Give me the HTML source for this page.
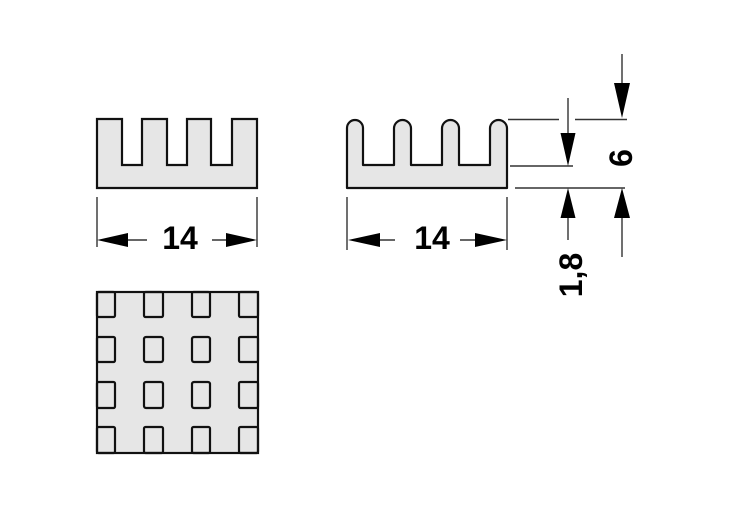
<!DOCTYPE html>
<html><head><meta charset="utf-8"><style>
html,body{margin:0;padding:0;background:#fff;}
svg{display:block;}
text{font-family:"Liberation Sans",sans-serif;font-weight:bold;font-size:32px;fill:#000;}
</style></head><body>
<svg width="731" height="532" viewBox="0 0 731 532" xmlns="http://www.w3.org/2000/svg">
<!-- left profile -->
<path d="M97,188 V119 H122 V165 H142 V119 H167 V165 H187 V119 H211 V165 H232 V119 H257 V188 Z" fill="#e6e6e6" stroke="#111" stroke-width="2.2" stroke-linejoin="miter"/>
<!-- right profile -->
<path d="M347,188 V128 A8,8 0 0 1 363,128 V165 H394 V128.5 A8.5,8.5 0 0 1 411,128.5 V165 H442 V128.5 A8.5,8.5 0 0 1 459,128.5 V165 H490 V128.5 A8.5,8.5 0 0 1 507,128.5 V188 Z" fill="#e6e6e6" stroke="#111" stroke-width="2.2" stroke-linejoin="round"/>
<!-- bottom view -->
<rect x="97" y="292" width="161" height="161" fill="#e6e6e6" stroke="#111" stroke-width="2.2"/>
<g fill="none" stroke="#111" stroke-width="2.2">
<rect x="97" y="292" width="18" height="25" rx="1.5"/>
<rect x="144" y="292" width="19" height="25" rx="1.5"/>
<rect x="192" y="292" width="18" height="25" rx="1.5"/>
<rect x="239" y="292" width="19" height="25" rx="1.5"/>
<rect x="97" y="337" width="18" height="25" rx="1.5"/>
<rect x="144" y="337" width="19" height="25" rx="2"/>
<rect x="192" y="337" width="18" height="25" rx="2"/>
<rect x="239" y="337" width="19" height="25" rx="1.5"/>
<rect x="97" y="382" width="18" height="26" rx="1.5"/>
<rect x="144" y="382" width="19" height="26" rx="2"/>
<rect x="192" y="382" width="18" height="26" rx="2"/>
<rect x="239" y="382" width="19" height="26" rx="1.5"/>
<rect x="97" y="427" width="18" height="26" rx="1.5"/>
<rect x="144" y="427" width="19" height="26" rx="1.5"/>
<rect x="192" y="427" width="18" height="26" rx="1.5"/>
<rect x="239" y="427" width="19" height="26" rx="1.5"/>
</g>
<!-- dimension lines -->
<g stroke="#333" stroke-width="1.4" fill="none">
<line x1="97" y1="197" x2="97" y2="247"/>
<line x1="257" y1="197" x2="257" y2="247"/>
<line x1="110" y1="240" x2="147" y2="240"/>
<line x1="212" y1="240" x2="245" y2="240"/>
<line x1="347" y1="197" x2="347" y2="250"/>
<line x1="507" y1="197" x2="507" y2="250"/>
<line x1="360" y1="240" x2="395" y2="240"/>
<line x1="460" y1="240" x2="495" y2="240"/>
<line x1="508" y1="119.5" x2="559" y2="119.5"/>
<line x1="575" y1="119.5" x2="627" y2="119.5"/>
<line x1="510" y1="166" x2="573" y2="166"/>
<line x1="515" y1="188" x2="625" y2="188"/>
<line x1="568" y1="98" x2="568" y2="150"/>
<line x1="568" y1="200" x2="568" y2="240"/>
<line x1="622" y1="54" x2="622" y2="100"/>
<line x1="622" y1="200" x2="622" y2="257"/>
</g>
<g fill="#000">
<polygon points="97,240 128,233 128,247"/>
<polygon points="257,240 226,233 226,247"/>
<polygon points="348,240 380,233 380,247"/>
<polygon points="507,240 475,233 475,247"/>
<polygon points="568,166 560.5,133 575.5,133"/>
<polygon points="568,188 560.5,218 575.5,218"/>
<polygon points="622,118 614,83 630,83"/>
<polygon points="622,188 614,218 630,218"/>
</g>
<text x="180" y="249" text-anchor="middle">14</text>
<text x="432" y="249" text-anchor="middle">14</text>
<text transform="translate(570,275) rotate(-90)" x="0" y="12" text-anchor="middle">1,8</text>
<text transform="translate(620,158) rotate(-90)" x="0" y="12" text-anchor="middle">6</text>
</svg>
</body></html>
